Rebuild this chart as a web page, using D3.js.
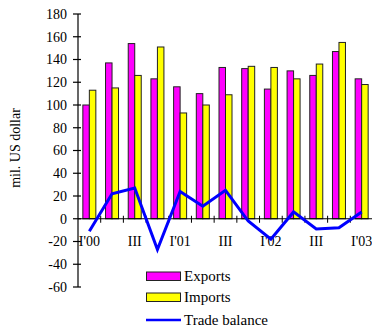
<!DOCTYPE html>
<html><head><meta charset="utf-8">
<script src="https://cdn.jsdelivr.net/npm/d3@7"></script>
<style>
html,body{margin:0;padding:0;background:#fff;}
svg{display:block;font-family:"Liberation Serif","Times New Roman",serif;}
</style></head>
<body><svg id="c" width="372" height="329"></svg>
<script>
const quarters = ["I'00","II'00","III'00","IV'00","I'01","II'01","III'01","IV'01","I'02","II'02","III'02","IV'02","I'03"];
const tickLabels = ["I'00","","III","","I'01","","III","","I'02","","III","","I'03"];
const exportsVals = [100,137,154,123,116,110,133,132,114,130,126,147,123];
const importsVals = [113,115,126,151,93,100,109,134,133,123,136,155,118];
const balanceVals = [-11,22,27,-27,24,11,25,-2,-18,6,-9,-8,6];
const yTicks = [-60,-40,-20,0,20,40,60,80,100,120,140,160,180];
const seriesNames = ["Exports","Imports","Trade balance"];
const colors = {"Exports":"#ff00ff","Imports":"#ffff00","Trade balance":"#0000ff"};

const svg = d3.select("#c");
const y = d3.scaleLinear().domain([-60,180]).range([287,14]);
const x = d3.scaleBand().domain(quarters).range([78,373]).padding(0);
const sub = d3.scaleBand().domain(["Exports","Imports"]).range([-6.5,6.5]);

// bars
const g = svg.append("g");
quarters.forEach((q,i)=>{
  [["Exports",exportsVals[i]],["Imports",importsVals[i]]].forEach(([s,v])=>{
    g.append("rect")
      .attr("x", x(q)+x.bandwidth()/2+sub(s))
      .attr("y", y(v))
      .attr("width", sub.bandwidth())
      .attr("height", y(0)-y(v))
      .attr("fill", colors[s])
      .attr("stroke","#222").attr("stroke-width",1);
  });
});

// y axis
svg.append("line").attr("x1",78).attr("x2",78).attr("y1",y(180)).attr("y2",y(-60)).attr("stroke","#000").attr("stroke-width",1.2);
yTicks.forEach(t=>{
  svg.append("line").attr("x1",73).attr("x2",81).attr("y1",y(t)).attr("y2",y(t)).attr("stroke","#000").attr("stroke-width",1.2);
  svg.append("text").attr("x",67).attr("y",y(t)).attr("dy","0.35em").attr("text-anchor","end")
    .attr("font-size",14).text(t);
});
// x axis
svg.append("line").attr("x1",78).attr("x2",372).attr("y1",y(0)).attr("y2",y(0)).attr("stroke","#000").attr("stroke-width",1.2);
quarters.forEach((q,i)=>{
  if(i>0){
    svg.append("line").attr("x1",x(q)).attr("x2",x(q)).attr("y1",y(0)-3).attr("y2",y(0)+4).attr("stroke","#000").attr("stroke-width",1);
  }
  if(tickLabels[i]) svg.append("text").attr("x",x(q)+x.bandwidth()/2).attr("y",246).attr("text-anchor","middle")
    .attr("font-size",14).text(tickLabels[i]);
});

// line
const line = d3.line().x((d,i)=>x(quarters[i])+x.bandwidth()/2).y(d=>y(d));
svg.append("path").datum(balanceVals).attr("d",line).attr("fill","none")
  .attr("stroke",colors["Trade balance"]).attr("stroke-width",3).attr("stroke-linejoin","miter");

// y label
svg.append("text").attr("transform","translate(20,148) rotate(-90)").attr("text-anchor","middle")
  .attr("font-size",14).text("mil. US dollar");

// legend
const ly = [276,297,320];
seriesNames.forEach((s,i)=>{
  if(i<2){
    svg.append("rect").attr("x",146.5).attr("y",ly[i]-4).attr("width",34).attr("height",8.5)
      .attr("fill",colors[s]).attr("stroke","#222").attr("stroke-width",1);
  } else {
    svg.append("line").attr("x1",146).attr("x2",181).attr("y1",ly[i]).attr("y2",ly[i])
      .attr("stroke",colors[s]).attr("stroke-width",2.5);
  }
  svg.append("text").attr("x",184).attr("y",ly[i]).attr("dy","0.35em").attr("font-size",15).text(s);
});
</script></body></html>
